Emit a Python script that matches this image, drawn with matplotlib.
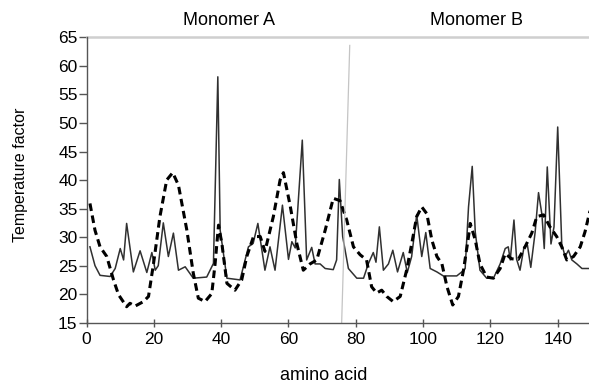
import matplotlib
matplotlib.use("Agg")
import matplotlib.pyplot as plt

plt.rcParams['font.family'] = ['Liberation Sans', 'DejaVu Sans']

# B-factor profile, solid line
solid_x = [1, 2.5, 4, 7, 8.5, 10, 11, 11.9, 13.9, 15.9, 17.9, 19.4, 20.4, 21.3,
           22.8, 24.3, 25.8, 27.3, 29.3, 31.7, 35.7, 37.7, 39.0, 39.7, 41.7,
           45.6, 48.1, 49.5, 50.9, 52.1, 53.0, 54.5, 56.0, 58.2, 60.0, 61.0,
           62.0, 64.1, 65.4, 66.9, 67.9, 69.4, 70.9, 73.3, 74.3, 75.1, 76.1,
           77.8, 80.3, 82.3, 83.7, 85.2, 86.0, 87.0, 88.2, 89.7, 91.0, 92.4,
           94.1, 95.3, 96.6, 98.1, 99.6, 100.8, 102.1, 104.1, 106.0, 110.0,
           111.5, 112.5, 113.5, 114.6, 115.5, 116.9, 118.9, 120.9, 122.9,
           124.4, 125.3, 125.9, 127.0, 127.8, 128.8, 130.0, 131.0, 132.0,
           133.3, 134.3, 135.3, 136.0, 136.9, 138.0, 138.9, 140.0, 141.2,
           142.2, 143.2, 144.2, 145.7, 147.2, 150]
solid_y = [28.3, 25.0, 23.3, 23.1, 24.5, 28.0, 26.0, 32.4, 23.9, 27.6, 23.8, 27.3,
           24.2, 25.0, 32.5, 26.6, 30.7, 24.2, 24.8, 22.8, 23.0, 25.4, 58.1,
           31.2, 22.8, 22.5, 28.3, 28.9, 32.4, 27.7, 24.2, 28.3, 24.2, 35.6,
           26.1, 29.2, 28.1, 47.0, 26.0, 28.2, 25.3, 25.3, 24.5, 24.3, 26.0,
           40.1, 30.1, 24.5, 22.8, 22.8, 25.3, 27.3, 25.6, 31.8, 24.2, 25.3,
           27.7, 23.9, 27.3, 23.8, 26.6, 33.9, 26.6, 30.8, 24.5, 23.9, 23.2,
           23.2, 23.9, 24.5, 35.3, 42.4, 30.9, 24.2, 22.8, 22.8, 25.3, 28.0,
           28.3, 26.0, 33.0, 26.1, 24.2, 28.3, 28.6, 24.7, 30.9, 37.8, 34.0,
           28.0, 42.3, 28.8, 31.8, 49.3, 28.8, 26.6, 27.7, 26.0, 25.3, 24.5,
           24.5]

# dashed line
dash_x = [1, 2.5, 4, 6, 8, 9.5, 11.9, 12.9, 14.4, 16.9, 18.4, 19.9, 21.8, 23.8,
          25.6, 27.3, 29.8, 31.7, 33.2, 35.2, 37.2, 38.2, 39.2, 40.2, 41.7,
          44.1, 46.1, 47.6, 49.6, 51.6, 53.0, 55.5, 57.5, 58.5, 60.5, 62.5,
          64.4, 66.4, 68.4, 70.9, 73.3, 75.3, 77.3, 79.3, 81.3, 83.2, 84.7,
          86.2, 87.7, 89.2, 91.1, 93.2, 95.1, 96.6, 98.1, 99.6, 101.1, 102.6,
          104.1, 105.6, 107.1, 108.8, 110.5, 112.0, 113.5, 114.0, 115.5,
          116.9, 118.9, 120.9, 122.9, 124.4, 126.3, 128.3, 130.3, 132.3,
          133.8, 135.8, 137.7, 139.7, 141.2, 142.7, 144.7, 146.7, 148.1, 150]
dash_y = [35.9, 31.2, 28.3, 26.6, 22.5, 19.9, 17.8, 18.4, 17.9, 18.7, 19.6, 25.4,
          33.6, 40.0, 41.3, 39.1, 31.2, 23.7, 19.3, 18.7, 20.1, 25.4, 32.1,
          28.9, 21.9, 20.7, 22.5, 26.6, 30.1, 30.1, 27.5, 33.6, 40.0, 41.3,
          35.5, 28.8, 24.2, 25.3, 26.0, 31.2, 36.8, 36.4, 33.0, 28.3, 26.9,
          26.0, 21.3, 20.2, 20.7, 19.6, 18.7, 19.6, 24.2, 28.8, 33.6, 35.3,
          34.1, 29.5, 26.6, 25.3, 21.3, 18.1, 19.6, 24.2, 30.1, 32.4, 29.5,
          25.3, 23.0, 22.8, 24.5, 27.1, 26.2, 26.1, 28.3, 30.7, 33.6, 33.9,
          31.8, 30.1, 28.3, 26.0, 26.6, 28.3, 30.9, 35.6]

monomers = ["Monomer A", "Monomer B"]
monomer_pos = [42.3, 116]

fig = plt.figure(figsize=(5.89, 3.86), dpi=100)
ax = fig.add_axes([0.147, 0.164, 0.857, 0.739])

ax.plot(solid_x, solid_y, color='#303030', lw=1.1)
ax.plot(dash_x, dash_y, color='black', lw=2.2, dashes=(2.5, 1.5))

# separator between the two monomers
ax.plot([75.8, 78.2], [15, 63.6], color='#c4c4c4', lw=0.9)
# light top line
ax.axhline(65, color='#cfcfcf', lw=1.8, clip_on=False)

ax.set_xlim(0, 150)
ax.set_ylim(15, 65)
ax.set_xticks(range(0, 141, 20))
ax.set_yticks(range(15, 66, 5))

for s in ['top', 'right']:
    ax.spines[s].set_visible(False)
for s in ['left', 'bottom']:
    ax.spines[s].set_color('#555555')
    ax.spines[s].set_linewidth(1.0)

ax.tick_params(axis='both', colors='#555555', labelcolor='black', labelsize=12.5,
               width=1.0)
ax.tick_params(axis='y', length=5.5, pad=1)
ax.tick_params(axis='x', direction='inout', length=6, pad=4)

ax.set_ylabel('Temperature factor', fontsize=11.5)
ax.yaxis.set_label_coords(-0.117, 0.517)
fig.text(324 / 589, 1 - 376 / 386, 'amino acid', fontsize=13, ha='center', va='center')

for name, pos in zip(monomers, monomer_pos):
    ax.text(pos, 67.9, name, fontsize=13, ha='center', va='center', clip_on=False)

fig.savefig('out.png', dpi=100)
